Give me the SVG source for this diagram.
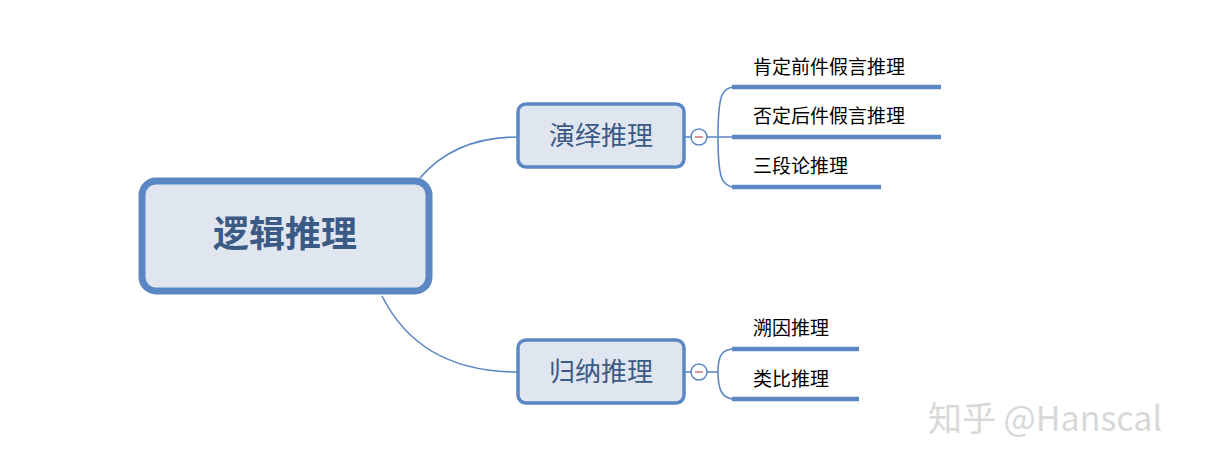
<svg xmlns="http://www.w3.org/2000/svg" width="1208" height="468" viewBox="0 0 1208 468">
<style>
.c{fill:none;stroke:#5b87c4;stroke-width:1.6}
.u{stroke:#5b87c4;stroke-width:4.5}
.t{font-family:"Noto Sans CJK SC",sans-serif;fill:#000;font-size:19px}
.m{font-family:"Noto Sans CJK SC",sans-serif;fill:#3b5a85;font-size:26px}
</style>
<rect width="1208" height="468" fill="#fff"/>
<g id="connectors">
<path class="c" d="M420 178 Q455 137 518 137"/>
<path class="c" d="M382 296 Q420 372 518 372"/>
<path class="c" d="M684 137 H691"/>
<path class="c" d="M684 372 H691"/>
<path class="c" d="M707 137 H718 M718 137 C718 95 722 87 735 87 M718 137 H735 M718 137 C718 179 722 187 735 187"/>
<path class="c" d="M707 372 H718 M718 372 C718 355 722 349 735 349 M718 372 C718 390 722 399 735 399"/>
<circle cx="699" cy="137" r="8" fill="#fff" stroke="#5b87c4" stroke-width="1.5"/>
<line x1="695" y1="137" x2="703" y2="137" stroke="#c05050" stroke-width="1.2"/>
<circle cx="699" cy="372" r="8" fill="#fff" stroke="#5b87c4" stroke-width="1.5"/>
<line x1="695" y1="372" x2="703" y2="372" stroke="#c05050" stroke-width="1.2"/>
</g>
<g id="root"><rect x="142" y="181" width="287" height="110" rx="14" fill="#e0e6f0" stroke="#5b87c4" stroke-width="7"/>
<text x="285" y="247" text-anchor="middle" font-family="Noto Sans CJK SC,sans-serif" font-size="36" font-weight="bold" fill="#3b5a85">逻辑推理</text></g>
<g id="n1"><rect x="518" y="104" width="166" height="63" rx="8" fill="#e0e6f0" stroke="#5b87c4" stroke-width="3.5"/><text class="m" x="601" y="145" text-anchor="middle">演绎推理</text></g>
<g id="n2"><rect x="518" y="340" width="166" height="63" rx="8" fill="#e0e6f0" stroke="#5b87c4" stroke-width="3.5"/><text class="m" x="601" y="381" text-anchor="middle">归纳推理</text></g>
<g id="l1"><line class="u" x1="732" y1="87" x2="941" y2="87"/><text class="t" x="753" y="74">肯定前件假言推理</text></g>
<g id="l2"><line class="u" x1="732" y1="137" x2="941" y2="137"/><text class="t" x="753" y="123">否定后件假言推理</text></g>
<g id="l3"><line class="u" x1="732" y1="187" x2="881" y2="187"/><text class="t" x="753" y="173">三段论推理</text></g>
<g id="l4"><line class="u" x1="732" y1="349" x2="859" y2="349"/><text class="t" x="753" y="335">溯因推理</text></g>
<g id="l5"><line class="u" x1="732" y1="399" x2="859" y2="399"/><text class="t" x="753" y="386">类比推理</text></g>
<text x="928" y="431" font-family="Noto Sans CJK SC,sans-serif" font-size="34" fill="#d8d8d8">知乎 @Hanscal</text>
</svg>
